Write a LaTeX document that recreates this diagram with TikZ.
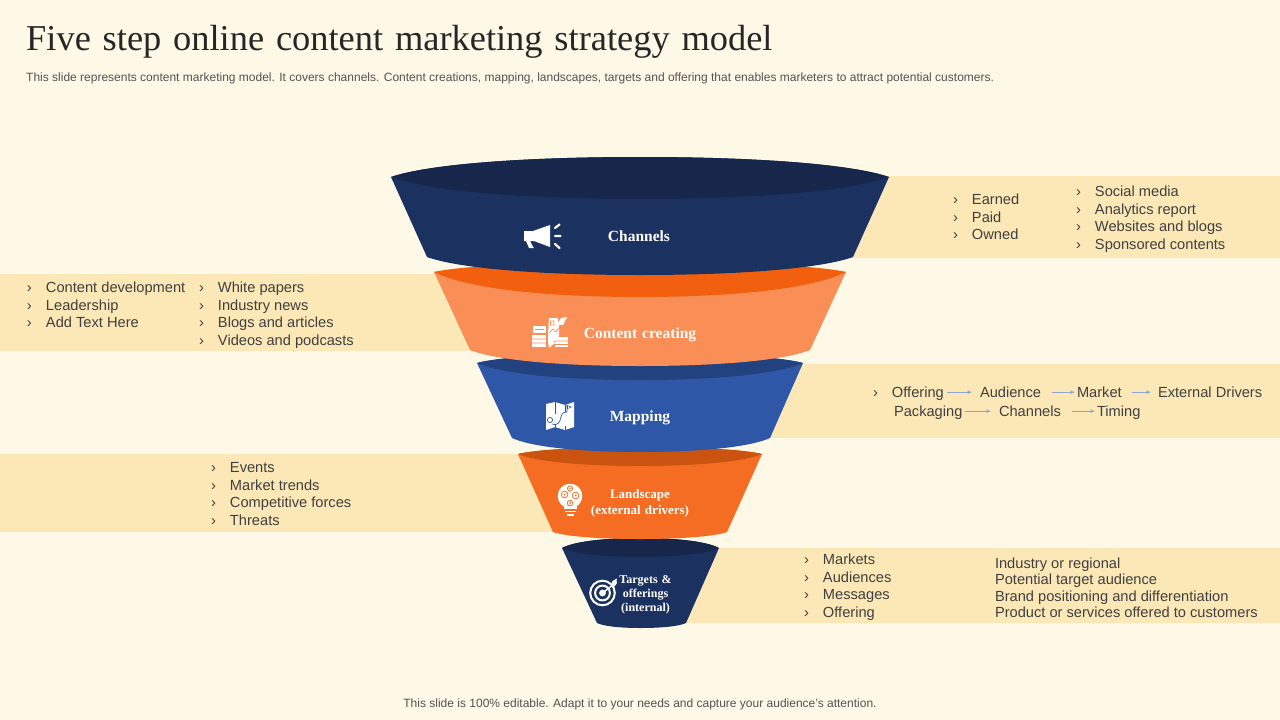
\documentclass[tikz,border=0pt]{standalone}
\usepackage{fontspec}
\setmainfont{Liberation Sans}
\newfontfamily\titlefont[WordSpace=1.35]{Liberation Serif}
\newfontfamily\labelfont[WordSpace=1.3]{Liberation Serif}
\usetikzlibrary{arrows.meta}
\definecolor{bgc}{HTML}{FEF8E6}
\definecolor{bandc}{HTML}{FBE8B6}
\definecolor{txtc}{HTML}{404040}
\definecolor{navy}{HTML}{1B3261}
\definecolor{navyd}{HTML}{16274B}
\definecolor{peach}{HTML}{F98F57}
\definecolor{orangedd}{HTML}{F2600F}
\definecolor{blueb}{HTML}{2E57A8}
\definecolor{bluebd}{HTML}{22417F}
\definecolor{orangem}{HTML}{F56D23}
\definecolor{orangemd}{HTML}{C9530F}
\definecolor{arrowc}{HTML}{8FA6CE}
\tikzset{
  txt/.style={anchor=base west,inner sep=0pt,outer sep=1pt,xshift=-1pt,text=txtc,font=\fontsize{14.65}{18}\selectfont},
  lbl/.style={align=center,inner sep=0pt,text=white,font=\labelfont\bfseries\fontsize{15.5}{17}\selectfont},
  band/.style={fill=bandc,draw=none},
  flow/.style={draw=arrowc,line width=0.8pt,-{Latex[length=4.5pt,width=4pt]},shorten >=1pt,shorten <=2pt},
  ico/.style={fill=white,draw=none},
}
\newcommand{\funnelpart}[1]{\funnelparta#1\relax}
\def\funnelparta#1,#2,#3,#4,#5,#6,#7,#8,#9\relax{%
  \def\pL{#1}\def\pR{#2}\def\pY{#3}\def\pT{#4}\def\pE{#5}\def\pl{#6}\def\pr{#7}\def\pyb{#8}\def\pB{#9}%
  \pgfmathsetmacro\pC{(\pL+\pR)/2}%
  \pgfmathsetmacro\ctl{\pL+0.14*(\pC-\pL)}\pgfmathsetmacro\ctr{\pR-0.14*(\pR-\pC)}%
  \pgfmathsetmacro\cil{\pC-0.5*(\pC-\pL)}\pgfmathsetmacro\cir{\pC+0.5*(\pR-\pC)}%
  \pgfmathsetmacro\cb{\pl+0.14*(\pC-\pl)}\pgfmathsetmacro\cc{\pr-0.14*(\pr-\pC)}%
  \pgfmathsetmacro\db{\pC-0.5*(\pC-\pl)}\pgfmathsetmacro\dc{\pC+0.5*(\pr-\pC)}%
  \pgfmathsetmacro\yTc{\pY-0.6*(\pY-\pT)}\pgfmathsetmacro\yEc{\pY+0.6*(\pE-\pY)}%
  \pgfmathsetmacro\yBc{\pyb+0.6*(\pB-\pyb)}%
}
\newcommand{\funnelbody}[2]{%
  \fill[#1] (\pL,\pY) -- (\pl,\pyb) .. controls (\cb,\yBc) and (\db,\pB) .. (\pC,\pB)
     .. controls (\dc,\pB) and (\cc,\yBc) .. (\pr,\pyb) -- (\pR,\pY)
     .. controls (\ctr,\yTc) and (\cir,\pT) .. (\pC,\pT)
     .. controls (\cil,\pT) and (\ctl,\yTc) .. (\pL,\pY) -- cycle;
  \fill[#2] (\pL,\pY) .. controls (\ctl,\yTc) and (\cil,\pT) .. (\pC,\pT)
     .. controls (\cir,\pT) and (\ctr,\yTc) .. (\pR,\pY)
     .. controls (\ctr,\yEc) and (\cir,\pE) .. (\pC,\pE)
     .. controls (\cil,\pE) and (\ctl,\yEc) .. (\pL,\pY) -- cycle;
}
\begin{document}
\begin{tikzpicture}[x=1pt,y=-1pt]
\useasboundingbox (0,0) rectangle (1280,720);
\fill[bgc] (0,0) rectangle (1280,720);
% title
\node[anchor=base west,inner sep=0pt,text=black!85,font=\titlefont\fontsize{36.4}{40}\selectfont] (title) at (26,50) {Five step online content marketing strategy model};
\node[anchor=base west,inner sep=0pt,text=txtc!90,font=\fontsize{12}{14}\selectfont] (sub) at (26,81) {This slide represents content marketing model. It covers channels. Content creations, mapping, landscapes, targets and offering that enables marketers to attract potential customers.};
\node[anchor=base,inner sep=0pt,text=txtc!90,font=\fontsize{12}{14}\selectfont] (foot) at (640,707) {This slide is 100\% editable. Adapt it to your needs and capture your audience's attention.};
% bands
\fill[band] (850,176) rectangle (1280,258);
\fill[band] (0,274) rectangle (475,351);
\fill[band] (765,364) rectangle (1280,438);
\fill[band] (0,454) rectangle (558,532);
\fill[band] (680,548) rectangle (1280,623);
% funnel, bottom to top
\funnelpart{562,719,548,538,557,597,686,623,628}\funnelbody{navy}{navyd}
\funnelpart{518,762,454,447,466,553,727,532,539}\funnelbody{orangem}{orangemd}
\funnelpart{477,803,363,353,380,512,770,438,452}\funnelbody{blueb}{bluebd}
\funnelpart{434,846,272,262,297,470,810,350,366}\funnelbody{peach}{orangedd}
\funnelpart{391,889,177,157,199,427,853,257,275}\funnelbody{navy}{navyd}
% funnel labels
\node[lbl] (lchannels) at (639,236) {Channels};
\node[lbl] (lcontent) at (640,335) {Content creating};
\node[lbl] (lmapping) at (640,418) {Mapping};
\node[lbl,font=\labelfont\bfseries\fontsize{13}{16}\selectfont] (lland) at (640,503) {Landscape\\(external drivers)};
\node[lbl,font=\labelfont\bfseries\fontsize{12}{14}\selectfont] (ltarget) at (645.5,594.5) {Targets \&\\offerings\\(internal)};
% megaphone icon
\fill[ico] (524,231) -- (533,231) -- (550,225) -- (550,247) -- (534,241) -- (530,241) -- (533,247) -- (534,248) -- (529,248) -- (526,241) -- (524,241) -- cycle;
\draw[white,line width=2.2pt,line cap=round] (555,228) -- (559.5,224.5) (555,236) -- (560.5,236) (555,244) -- (559.5,248);
% content icon
\fill[ico] (549,318) -- (558,318) -- (558,323) -- (561,318) -- (567,317) -- (563,325) -- (559,325) -- (559,336) -- (553,342) -- (556,342) -- (549,348) -- (548,342) -- (548,335) -- cycle;
\fill[ico] (533,326) rectangle (546,333);
\fill[ico] (532,335) rectangle (546,347);
\fill[ico] (555,337) rectangle (568,347);
\draw[peach,line width=0.7pt] (535,329.5) -- (544,329.5) (532,339) -- (546,339) (532,343) -- (546,343) (555,341) -- (568,341) (555,344.5) -- (568,344.5) (550.5,321) rectangle (554,325) (549,333) -- (553,329) -- (556,332) -- (561,325);
% map icon
\fill[ico] (546,404) -- (555,402) -- (565,405) -- (574,402) -- (574,427) -- (565,430) -- (555,427) -- (546,430) -- cycle;
\draw[blueb,line width=0.6pt] (555,402) -- (555,414) (565,405) -- (565,412) (555,424) -- (555,427) (565,426) -- (565,430);
\draw[blueb,line width=0.7pt] (552,424) .. controls (557,426) and (560,423) .. (561,417) .. controls (562,412) and (565,412) .. (567,412) -- (567,405);
\fill[blueb] (567,405) -- (572,407) -- (567,409) -- cycle;
\fill[white] (568,406) -- (570,407) -- (568,408) -- cycle;
\draw[blueb,line width=0.7pt] (550,420) circle (2.6);
% bulb icon
\fill[ico] (570,496) circle (12.3);
\fill[ico] (563.5,503) rectangle (576.5,509);
\fill[ico] (564.5,510.5) rectangle (575.5,512.3);
\fill[ico] (566.5,514) rectangle (573.5,516.3);
\draw[orangem,line width=0.8pt] (564.5,494.5) circle (3.3) (575.5,495.5) circle (3.3) (570,488.5) circle (2.6) (570,503) circle (2.8);
\fill[orangem] (564.5,494.5) circle (1) (575.5,495.5) circle (1) (570,488.5) circle (0.8) (570,503) circle (1);
% target icon
\draw[white,line width=2pt] (602.5,593) circle (12.3) (602.5,593) circle (7.4);
\fill[ico] (602.5,593) circle (3.4);
\draw[white,line width=1.4pt] (602.5,593) -- (614,584);
\fill[ico] (611.5,584) -- (612.5,581) -- (617,578.5) -- (616.5,581) -- (617,583) -- (614.5,586.5) -- cycle;
% top right
\newcommand{\blt}[4]{\node[txt] (#1) at (#2,#3) {\makebox[19pt][l]{›}#4};}
\blt{e1}{953}{204}{Earned}
\blt{e2}{953}{222}{Paid}
\blt{e3}{953}{239}{Owned}
\blt{s1}{1076}{196}{Social media}
\blt{s2}{1076}{214}{Analytics report}
\blt{s3}{1076}{231}{Websites and blogs}
\blt{s4}{1076}{249}{Sponsored contents}
% content creating
\blt{c1}{27}{292}{Content development}
\blt{c2}{27}{310}{Leadership}
\blt{c3}{27}{327}{Add Text Here}
\blt{w1}{199}{292}{White papers}
\blt{w2}{199}{310}{Industry news}
\blt{w3}{199}{327}{Blogs and articles}
\blt{w4}{199}{345}{Videos and podcasts}
% mapping
\blt{m1}{873}{397}{Offering}
\node[txt] (m2) at (980,397) {Audience};
\node[txt] (m3) at (1077,397) {Market};
\node[txt] (m4) at (1158,397) {External Drivers};
\node[txt] (p1) at (894,416) {Packaging};
\node[txt] (p2) at (999,416) {Channels};
\node[txt] (p3) at (1097,416) {Timing};
\path (m1.east) ++(0,-1) coordinate (a1);
\draw[flow] (a1) -- ([xshift=-6pt]m2.west |- a1);
\draw[flow] ([xshift=8pt]m2.east |- a1) -- (m3.west |- a1);
\draw[flow] ([xshift=7pt]m3.east |- a1) -- ([xshift=-5pt]m4.west |- a1);
\path (p1.east) ++(0,-1) coordinate (b1);
\draw[flow] (b1) -- ([xshift=-6pt]p2.west |- b1);
\draw[flow] ([xshift=8pt]p2.east |- b1) -- (p3.west |- b1);
% landscape
\blt{l1}{211}{472}{Events}
\blt{l2}{211}{490}{Market trends}
\blt{l3}{211}{507}{Competitive forces}
\blt{l4}{211}{525}{Threats}
% targets
\blt{t1}{804}{564}{Markets}
\blt{t2}{804}{582}{Audiences}
\blt{t3}{804}{599}{Messages}
\blt{t4}{804}{617}{Offering}
\node[txt] (d1) at (995,568) {Industry or regional};
\node[txt] (d2) at (995,584) {Potential target audience};
\node[txt] (d3) at (995,601) {Brand positioning and differentiation};
\node[txt] (d4) at (995,617) {Product or services offered to customers};
\end{tikzpicture}
\end{document}
